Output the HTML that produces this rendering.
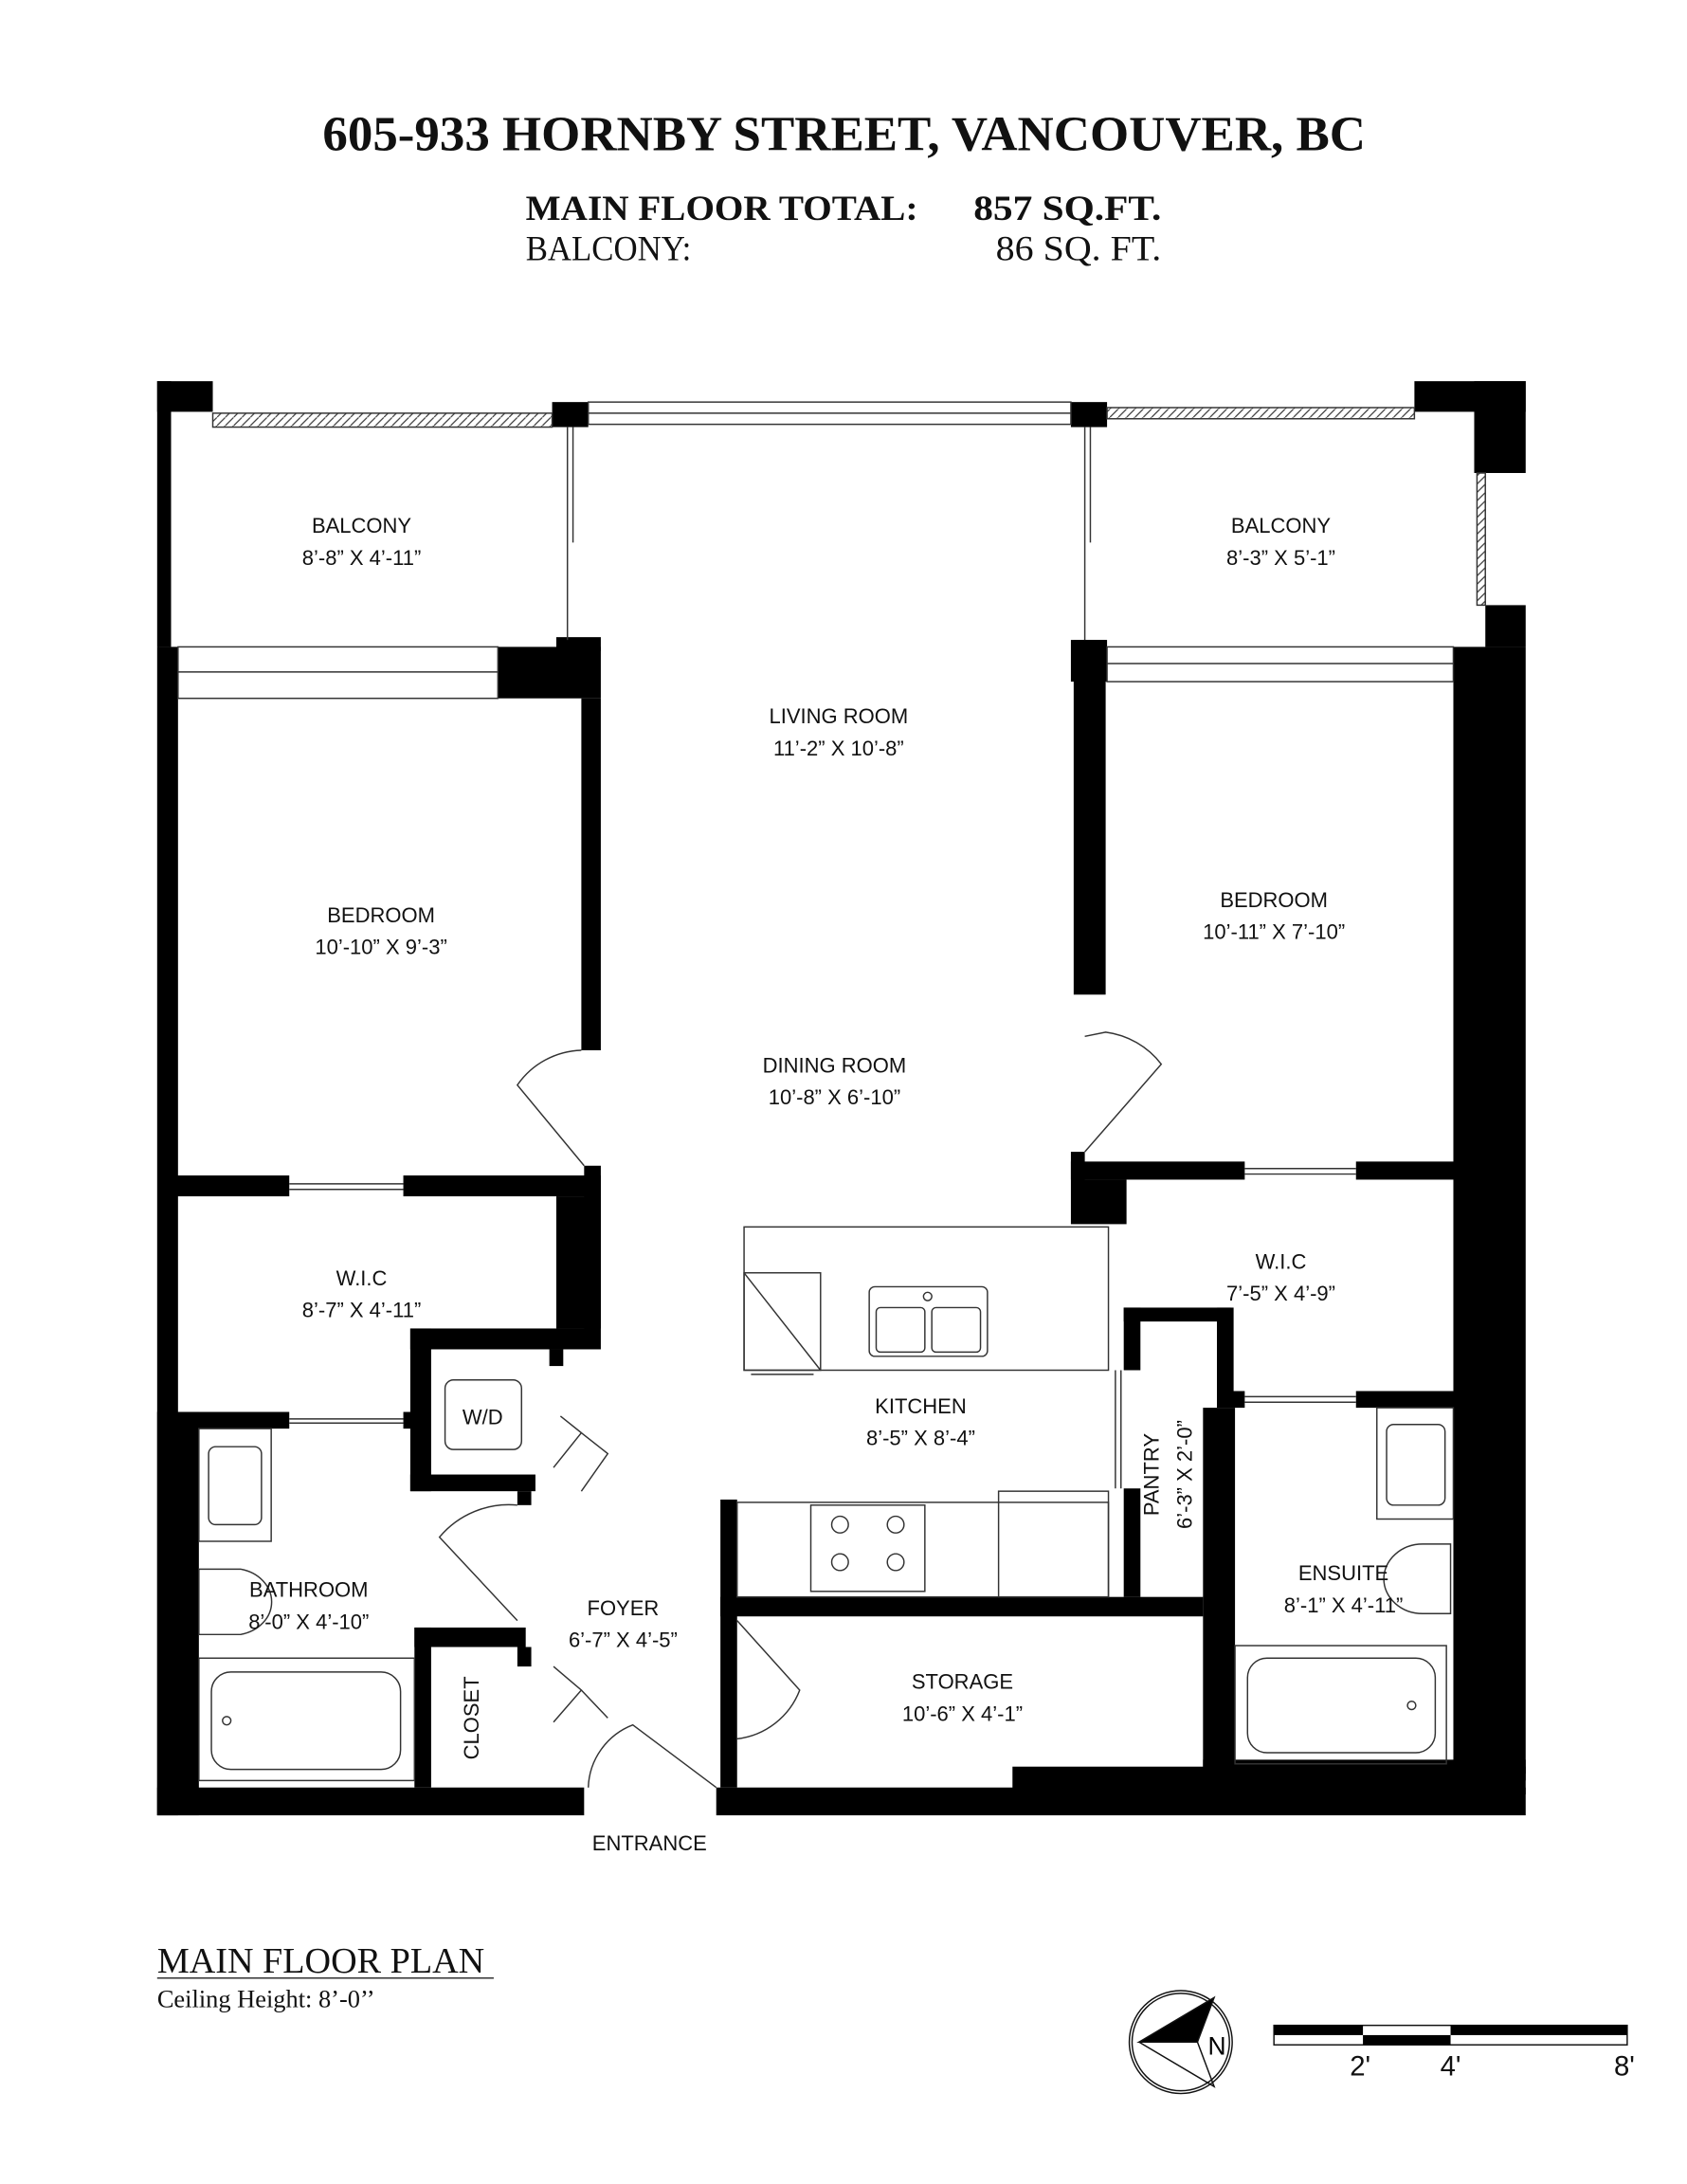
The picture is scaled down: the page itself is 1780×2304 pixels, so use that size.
<!DOCTYPE html>
<html><head><meta charset="utf-8"><style>
html,body{margin:0;padding:0;background:#fff}
svg{display:block}
.s{font-family:"Liberation Sans",sans-serif;font-size:15px;fill:#111;text-anchor:middle}
.sf{font-family:"Liberation Serif",serif;fill:#111}
</style></head><body>
<svg width="1780" height="2304" viewBox="0 0 1213 1570" xmlns="http://www.w3.org/2000/svg">
<defs><pattern id="h" width="6" height="6" patternUnits="userSpaceOnUse"><path d="M0 6L6 0" stroke="#333" stroke-width="0.8"/></pattern></defs>
<rect width="1213" height="1570" fill="#fff"/>
<text x="232" y="108" class="sf" font-size="35" font-weight="bold" textLength="750" lengthAdjust="spacingAndGlyphs">605-933 HORNBY STREET, VANCOUVER, BC</text>
<text x="378" y="158" class="sf" font-size="25" font-weight="bold" textLength="282" lengthAdjust="spacingAndGlyphs">MAIN FLOOR TOTAL:</text>
<text x="700" y="158" class="sf" font-size="25" font-weight="bold" textLength="135" lengthAdjust="spacingAndGlyphs">857 SQ.FT.</text>
<text x="378" y="187" class="sf" font-size="25" textLength="119" lengthAdjust="spacingAndGlyphs">BALCONY:</text>
<text x="716" y="187" class="sf" font-size="25" textLength="119" lengthAdjust="spacingAndGlyphs">86 SQ. FT.</text>

<g fill="#000">
<rect x="113" y="274" width="40" height="22"/>
<rect x="113" y="274" width="10" height="191"/>
<rect x="113" y="465" width="15" height="840"/>
<rect x="1017" y="274" width="80" height="22"/>
<rect x="1060" y="274" width="37" height="66"/>
<rect x="1068" y="435" width="29" height="30"/>
<rect x="1045" y="465" width="52" height="810"/>
<rect x="113" y="1285" width="307" height="20"/>
<rect x="515" y="1285" width="582" height="20"/>
<rect x="728" y="1270" width="369" height="20"/>
<rect x="865" y="1265" width="232" height="15"/>
<rect x="397" y="289" width="26" height="18"/>
<rect x="770" y="289" width="26" height="18"/>
<rect x="358" y="465" width="74" height="37"/>
<rect x="400" y="458" width="32" height="10"/>
<rect x="418" y="502" width="14" height="253"/>
<rect x="420" y="838" width="12" height="117"/>
<rect x="123" y="845" width="85" height="15"/>
<rect x="290" y="845" width="142" height="15"/>
<rect x="400" y="860" width="32" height="95"/>
<rect x="295" y="955" width="137" height="15"/>
<rect x="395" y="970" width="10" height="12"/>
<rect x="295" y="955" width="15" height="117"/>
<rect x="295" y="1060" width="90" height="12"/>
<rect x="372" y="1072" width="10" height="10"/>
<rect x="123" y="1015" width="85" height="12"/>
<rect x="290" y="1015" width="10" height="12"/>
<rect x="113" y="1015" width="30" height="290"/>
<rect x="298" y="1170" width="80" height="14"/>
<rect x="298" y="1170" width="12" height="115"/>
<rect x="372" y="1184" width="10" height="14"/>
<rect x="770" y="460" width="26" height="30"/>
<rect x="772" y="460" width="23" height="255"/>
<rect x="770" y="828" width="10" height="20"/>
<rect x="770" y="835" width="125" height="13"/>
<rect x="770" y="848" width="40" height="32"/>
<rect x="975" y="835" width="72" height="13"/>
<rect x="808" y="940" width="77" height="10"/>
<rect x="808" y="940" width="12" height="45"/>
<rect x="875" y="940" width="12" height="60"/>
<rect x="875" y="1000" width="20" height="12"/>
<rect x="975" y="1000" width="72" height="12"/>
<rect x="865" y="1012" width="23" height="258"/>
<rect x="808" y="1070" width="12" height="78"/>
<rect x="518" y="1078" width="12" height="207"/>
<rect x="518" y="1148" width="347" height="14"/>
</g>
<rect x="153" y="297" width="244" height="10" fill="url(#h)" stroke="#333" stroke-width="1"/>
<rect x="796" y="293" width="221" height="8" fill="url(#h)" stroke="#333" stroke-width="1"/>
<rect x="1062" y="340" width="6" height="95" fill="url(#h)" stroke="#333" stroke-width="1"/>
<g fill="none" stroke="#333" stroke-width="1">
<rect x="423" y="289" width="347" height="16"/>
<line x1="423" y1="297" x2="770" y2="297"/>
<rect x="128" y="465" width="230" height="37"/>
<line x1="128" y1="483" x2="358" y2="483"/>
<rect x="796" y="465" width="249" height="25"/>
<line x1="796" y1="477" x2="1045" y2="477"/>
<line x1="408" y1="307" x2="408" y2="460"/><line x1="412" y1="307" x2="412" y2="390"/>
<line x1="780" y1="307" x2="780" y2="460"/><line x1="784" y1="307" x2="784" y2="390"/>
<path d="M418 755 A58 58 0 0 0 372 780 L420 838"/>
<path d="M780 745 L795 742 A60 60 0 0 1 835 765 L780 828"/>
<line x1="208" y1="851" x2="290" y2="851"/><line x1="208" y1="855" x2="290" y2="855"/>
<line x1="208" y1="1020" x2="290" y2="1020"/><line x1="208" y1="1023" x2="290" y2="1023"/>
<line x1="895" y1="840" x2="975" y2="840"/><line x1="895" y1="844" x2="975" y2="844"/>
<line x1="895" y1="1004" x2="975" y2="1004"/><line x1="895" y1="1008" x2="975" y2="1008"/>
<line x1="802" y1="985" x2="802" y2="1070"/><line x1="806" y1="985" x2="806" y2="1070"/>
<path d="M403 1018 L418 1030 L398 1055 M418 1030 L437 1045 L418 1072"/>
<path d="M372 1082 A65 65 0 0 0 316 1105 L372 1165"/>
<path d="M398 1198 L418 1215 L398 1238 M418 1215 L437 1235"/>
<path d="M423 1285 A50 50 0 0 1 455 1240 L515 1285"/>
<path d="M530 1165 L575 1215 A55 55 0 0 1 530 1250"/>
<rect x="535" y="882" width="262" height="103" fill="#fff"/>
<rect x="535" y="915" width="55" height="70"/>
<line x1="535" y1="915" x2="590" y2="985"/>
<line x1="540" y1="988" x2="585" y2="988"/>
<rect x="625" y="925" width="85" height="50" rx="4"/>
<rect x="630" y="940" width="35" height="32" rx="3"/><rect x="670" y="940" width="35" height="32" rx="3"/>
<circle cx="667" cy="932" r="3"/>
<rect x="530" y="1080" width="267" height="68"/>
<rect x="583" y="1082" width="82" height="62"/>
<circle cx="604" cy="1096" r="6"/><circle cx="644" cy="1096" r="6"/><circle cx="604" cy="1123" r="6"/><circle cx="644" cy="1123" r="6"/>
<rect x="718" y="1072" width="79" height="76"/>
<rect x="143" y="1027" width="52" height="81"/>
<rect x="150" y="1040" width="38" height="56" rx="5"/>
<path d="M143 1128 h30 a28 24 0 0 1 0 47 h-30 z"/>
<rect x="143" y="1192" width="155" height="88"/>
<rect x="152" y="1202" width="136" height="70" rx="14"/>
<circle cx="163" cy="1237" r="3"/>
<rect x="990" y="1012" width="55" height="80"/>
<rect x="997" y="1024" width="42" height="58" rx="5"/>
<path d="M1043 1110 h-20 a28 25 0 0 0 0 50 h20 z"/>
<rect x="888" y="1183" width="152" height="85"/>
<rect x="897" y="1192" width="135" height="68" rx="14"/>
<circle cx="1015" cy="1226" r="3"/>
<rect x="320" y="992" width="55" height="50" rx="6"/>
</g>
<g class="s">
<text x="260" y="383">BALCONY</text><text x="260" y="406">8’-8” X 4’-11”</text>
<text x="921" y="383">BALCONY</text><text x="921" y="406">8’-3” X 5’-1”</text>
<text x="603" y="520">LIVING ROOM</text><text x="603" y="543">11’-2” X 10’-8”</text>
<text x="274" y="663">BEDROOM</text><text x="274" y="686">10’-10” X 9’-3”</text>
<text x="916" y="652">BEDROOM</text><text x="916" y="675">10’-11” X 7’-10”</text>
<text x="600" y="771">DINING ROOM</text><text x="600" y="794">10’-8” X 6’-10”</text>
<text x="260" y="924">W.I.C</text><text x="260" y="947">8’-7” X 4’-11”</text>
<text x="921" y="912">W.I.C</text><text x="921" y="935">7’-5” X 4’-9”</text>
<text x="347" y="1024">W/D</text>
<text x="662" y="1016">KITCHEN</text><text x="662" y="1039">8’-5” X 8’-4”</text>
<text x="222" y="1148">BATHROOM</text><text x="222" y="1171">8’-0” X 4’-10”</text>
<text x="448" y="1161">FOYER</text><text x="448" y="1184">6’-7” X 4’-5”</text>
<text x="966" y="1136">ENSUITE</text><text x="966" y="1159">8’-1” X 4’-11”</text>
<text x="692" y="1214">STORAGE</text><text x="692" y="1237">10’-6” X 4’-1”</text>
<text x="467" y="1330">ENTRANCE</text>
<text transform="translate(344 1235) rotate(-90)">CLOSET</text>
<text transform="translate(833 1060) rotate(-90)">PANTRY</text>
<text transform="translate(857 1060) rotate(-90)">6’-3” X 2’-0”</text>
</g>
<text x="113" y="1418" class="sf" font-size="26">MAIN FLOOR PLAN</text>
<line x1="113" y1="1422" x2="355" y2="1422" stroke="#333" stroke-width="1"/>
<text x="113" y="1443" class="sf" font-size="18">Ceiling Height: 8’-0’’</text>
<g stroke="#111" fill="none" stroke-width="1">
<circle cx="849" cy="1468" r="37"/><circle cx="849" cy="1468" r="35"/>
<path d="M819 1468 L873 1436 L861 1468 Z" fill="#000"/>
<path d="M819 1468 L873 1500 L861 1468"/>
</g>
<text x="875" y="1477" font-family="Liberation Sans,sans-serif" font-size="18" text-anchor="middle">N</text>
<rect x="916" y="1456" width="254" height="14" fill="#fff" stroke="#111" stroke-width="1"/>
<rect x="916" y="1456" width="64" height="7" fill="#000"/>
<rect x="1043" y="1456" width="127" height="7" fill="#000"/>
<rect x="980" y="1463" width="63" height="7" fill="#000"/>
<g font-family="Liberation Sans,sans-serif" font-size="20" fill="#111" text-anchor="middle">
<text x="978" y="1492">2'</text><text x="1043" y="1492">4'</text><text x="1168" y="1492">8'</text>
</g>
</svg>
</body></html>
